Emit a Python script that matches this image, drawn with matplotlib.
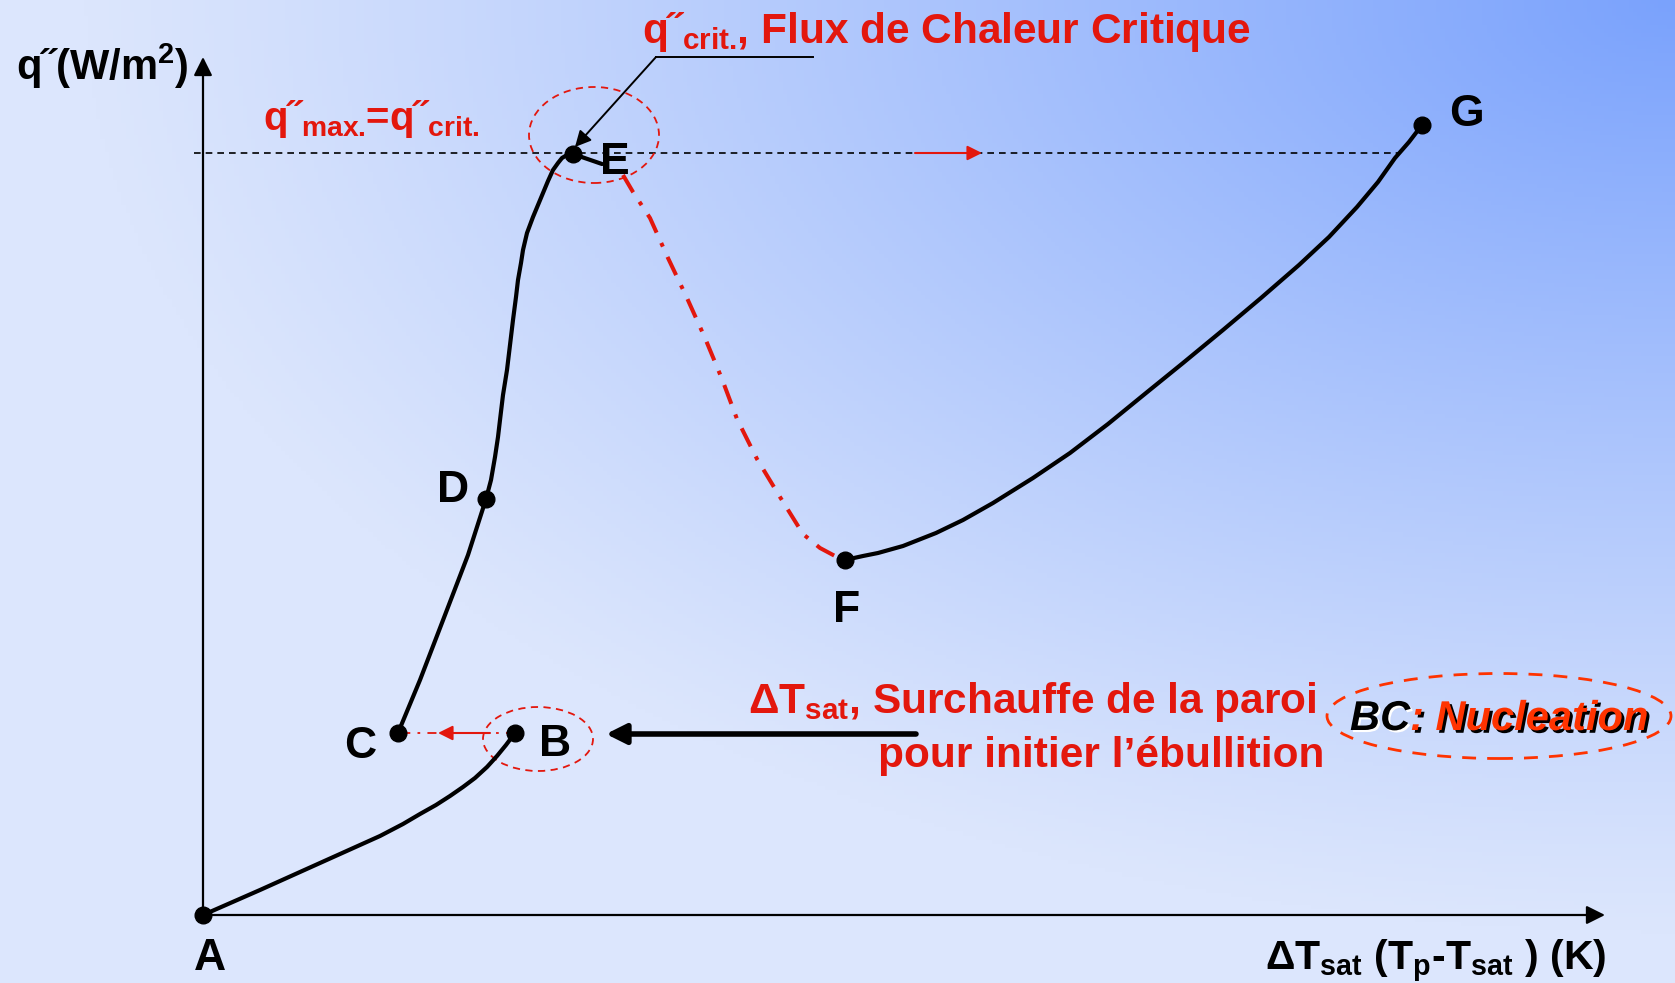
#!/usr/bin/env python3
# -*- coding: utf-8 -*-
"""
Courbe d'ebullition (Nukiyama) : q'' en fonction de Delta T_sat
"""

import numpy as np
import matplotlib
matplotlib.use("Agg")
import matplotlib.pyplot as plt
import matplotlib.patheffects as pe
from matplotlib.patches import Ellipse

plt.rcParams['font.family'] = ['Liberation Sans', 'DejaVu Sans']
plt.rcParams['font.weight'] = 'bold'
plt.rcParams['mathtext.fontset'] = 'custom'
plt.rcParams['mathtext.rm'] = 'Liberation Sans:bold'
plt.rcParams['mathtext.bf'] = 'Liberation Sans:bold'
plt.rcParams['mathtext.it'] = 'Liberation Sans:bold:italic'
plt.rcParams['mathtext.default'] = 'rm'


# Data (Delta T_sat , q''), arbitrary units, A at origin
seg_AB_x = [0, 57, 117, 177, 200, 217, 233, 247, 260, 272, 284, 294, 303, 312]
seg_AB_y = [0, 25, 52, 79, 91, 101, 110, 119, 128, 137, 148, 159, 170, 182]

seg_CD_x = [195, 217, 242, 265, 283]
seg_CD_y = [182, 235, 300, 360, 416]

seg_DE_x = [283, 288, 292, 295, 297, 300, 304, 307, 310, 313, 315, 318, 320, 324,
            330, 335, 340, 345, 350, 355, 359, 364, 370]
seg_DE_y = [416, 435, 458, 478, 495, 520, 545, 570, 595, 618, 635, 652, 665, 682,
            698, 710, 722, 734, 745, 752, 757, 760, 761]

seg_EF_x = [420, 430, 447, 465, 484, 502, 519, 534, 554, 577, 600, 617, 632]
seg_EF_y = [740, 723, 697, 657, 617, 577, 536, 496, 456, 418, 381, 367, 359]

seg_FG_x = [642, 660, 675, 700, 733, 760, 790, 830, 867, 905, 943, 980, 1020,
            1058, 1096, 1126, 1154, 1175, 1192, 1206, 1219]
seg_FG_y = [355, 359, 362, 369, 382, 395, 412, 437, 462, 491, 522, 552, 585,
            617, 650, 678, 708, 733, 757, 773, 790]

point_names = ['A', 'B', 'C', 'D', 'E', 'F', 'G']
point_x = [0, 312, 195, 283, 370, 642, 1219]
point_y = [0, 182, 182, 416, 761, 355, 790]

q_crit = 762
x_max = 1402
y_max = 858

red = '#e3170d'
orange = '#ff3300'

#--------------------------------------------------------------------------
# Figure
#--------------------------------------------------------------------------
fig = plt.figure(figsize=(16.75, 9.83), dpi=100)
ax = fig.add_axes([0, 0, 1, 1])
ax.set_xlim(-203, 1472)
ax.set_ylim(-68, 915)
ax.axis('off')

# background gradient, darker towards top-right corner
gx, gy = np.meshgrid(np.linspace(0, 1, 400), np.linspace(0, 1, 240))
d = np.sqrt(((1 - gx) / 0.95) ** 2 + (gy / 0.95) ** 2)
t = np.clip(1 - d, 0, 1) ** 1.1
light = np.array([220, 230, 253]) / 255.
dark = np.array([122, 162, 252]) / 255.
img = light[None, None, :] * (1 - t[..., None]) + dark[None, None, :] * t[..., None]
ax.imshow(img, extent=(-203, 1472, -68, 915), origin='upper', aspect='auto', zorder=0)

# axes with arrows
ax.annotate('', xy=(0, y_max), xytext=(0, 0),
            arrowprops=dict(arrowstyle='-|>', lw=1.6, color='black', mutation_scale=28,
                            shrinkA=0, shrinkB=0))
ax.annotate('', xy=(x_max, 0), xytext=(0, 0),
            arrowprops=dict(arrowstyle='-|>', lw=1.6, color='black', mutation_scale=28,
                            shrinkA=0, shrinkB=0))

# q''max dashed line
ax.plot([-9, 1196], [q_crit, q_crit], color='black', lw=1.2, ls=(0, (4, 3)), zorder=2)
ax.annotate('', xy=(779, q_crit), xytext=(712, q_crit),
            arrowprops=dict(arrowstyle='-|>', lw=1.5, color=red, mutation_scale=22,
                            shrinkA=0, shrinkB=0), zorder=3)

# boiling curve
for sx, sy in [(seg_AB_x, seg_AB_y), (seg_CD_x, seg_CD_y), (seg_DE_x, seg_DE_y),
               (seg_FG_x, seg_FG_y)]:
    ax.plot(sx, sy, color='black', lw=3.0, solid_joinstyle='round',
            solid_capstyle='round', zorder=4)
ax.plot([370, 399], [761, 751], color='black', lw=3.0, solid_capstyle='round', zorder=4)

# transition boiling (unstable), dash-dot
ax.plot(seg_EF_x, seg_EF_y, color=red, lw=2.9, dashes=[5.0, 2.8, 1.0, 2.8], zorder=4)

# B -> C
ax.plot([312, 195], [182, 182], color=red, lw=1.3, ls=(0, (5, 4, 1.5, 4)), zorder=3)
ax.annotate('', xy=(235, 182), xytext=(287, 182),
            arrowprops=dict(arrowstyle='-|>', lw=1.5, color=red, mutation_scale=22,
                            shrinkA=0, shrinkB=0), zorder=3)

# points
ax.plot(point_x, point_y, 'o', color='black', ms=12, zorder=5)

label_pos = {'A': (7, -43), 'B': (352, 170), 'C': (157, 168), 'D': (250, 424),
             'E': (412, 753), 'F': (644, 304), 'G': (1263, 800)}
for name in point_names:
    lx, ly = label_pos[name]
    ax.text(lx, ly, name, fontsize=32, fontweight='bold', color='black',
            ha='center', va='center', zorder=6)

# dashed ellipses
ax.add_patch(Ellipse((391, 780), 130, 96, fill=False, ec=red, lw=1.3, ls=(0, (4, 3)), zorder=3))
ax.add_patch(Ellipse((335, 176), 110, 64, fill=False, ec=red, lw=1.3, ls=(0, (4, 3)), zorder=3))
ax.add_patch(Ellipse((1296, 199), 344, 85, fill=False, ec=orange, lw=2.0, ls=(0, (5, 4)), zorder=3))

# leader to E
ax.plot([453, 610], [858, 858], color='black', lw=1.4, zorder=3)
ax.annotate('', xy=(372, 768), xytext=(453, 858),
            arrowprops=dict(arrowstyle='-|>', lw=1.4, color='black', mutation_scale=24,
                            shrinkA=0, shrinkB=0), zorder=3)

# big arrow to B
ax.annotate('', xy=(403, 181), xytext=(713, 181),
            arrowprops=dict(arrowstyle='-|>', lw=4, color='black', mutation_scale=30,
                            shrinkA=0, shrinkB=0), zorder=3)

#--------------------------------------------------------------------------
# texts
#--------------------------------------------------------------------------
ax.text(-187, 835, r'q˝(W/m$^{2}$)', fontsize=30, color='black', ha='left', va='baseline', zorder=6)
ax.text(60, 785, r'q˝${}_{\mathrm{max.}}\!$=q˝${}_{\mathrm{crit.}}$', fontsize=29, color=red,
        ha='left', va='baseline', zorder=6)
ax.text(439, 872, r'q˝${}_{\mathrm{crit.}}\!$, Flux de Chaleur Critique', fontsize=30.5, color=red,
        ha='left', va='baseline', zorder=6)
ax.text(545, 202, r'ΔT${}_{\mathrm{sat}}$, Surchauffe de la paroi', fontsize=30.5, color=red,
        ha='left', va='baseline', zorder=6)
ax.text(1121, 148, 'pour initier l’ébullition', fontsize=30.5, color=red,
        ha='right', va='baseline', zorder=6)
ax.text(1062, -55, r'ΔT${}_{\mathrm{sat}}$ (T${}_{\mathrm{p}}$-T${}_{\mathrm{sat}}$ ) (K)', fontsize=29.5,
        color='black', ha='left', va='baseline', zorder=6)

bc = ax.text(1147, 185, 'BC', fontsize=30, style='italic', color='black', ha='left',
             va='baseline', zorder=6,
             path_effects=[pe.withSimplePatchShadow(offset=(1.5, -1.5), shadow_rgbFace='white', alpha=1)])
ax.annotate(': Nucleation', xy=(1, 0), xycoords=bc, fontsize=30, style='italic', color=orange,
            ha='left', va='bottom', zorder=6,
            path_effects=[pe.withSimplePatchShadow(offset=(2, -2), shadow_rgbFace='black', alpha=1)])

fig.savefig('out.png', dpi=100)
